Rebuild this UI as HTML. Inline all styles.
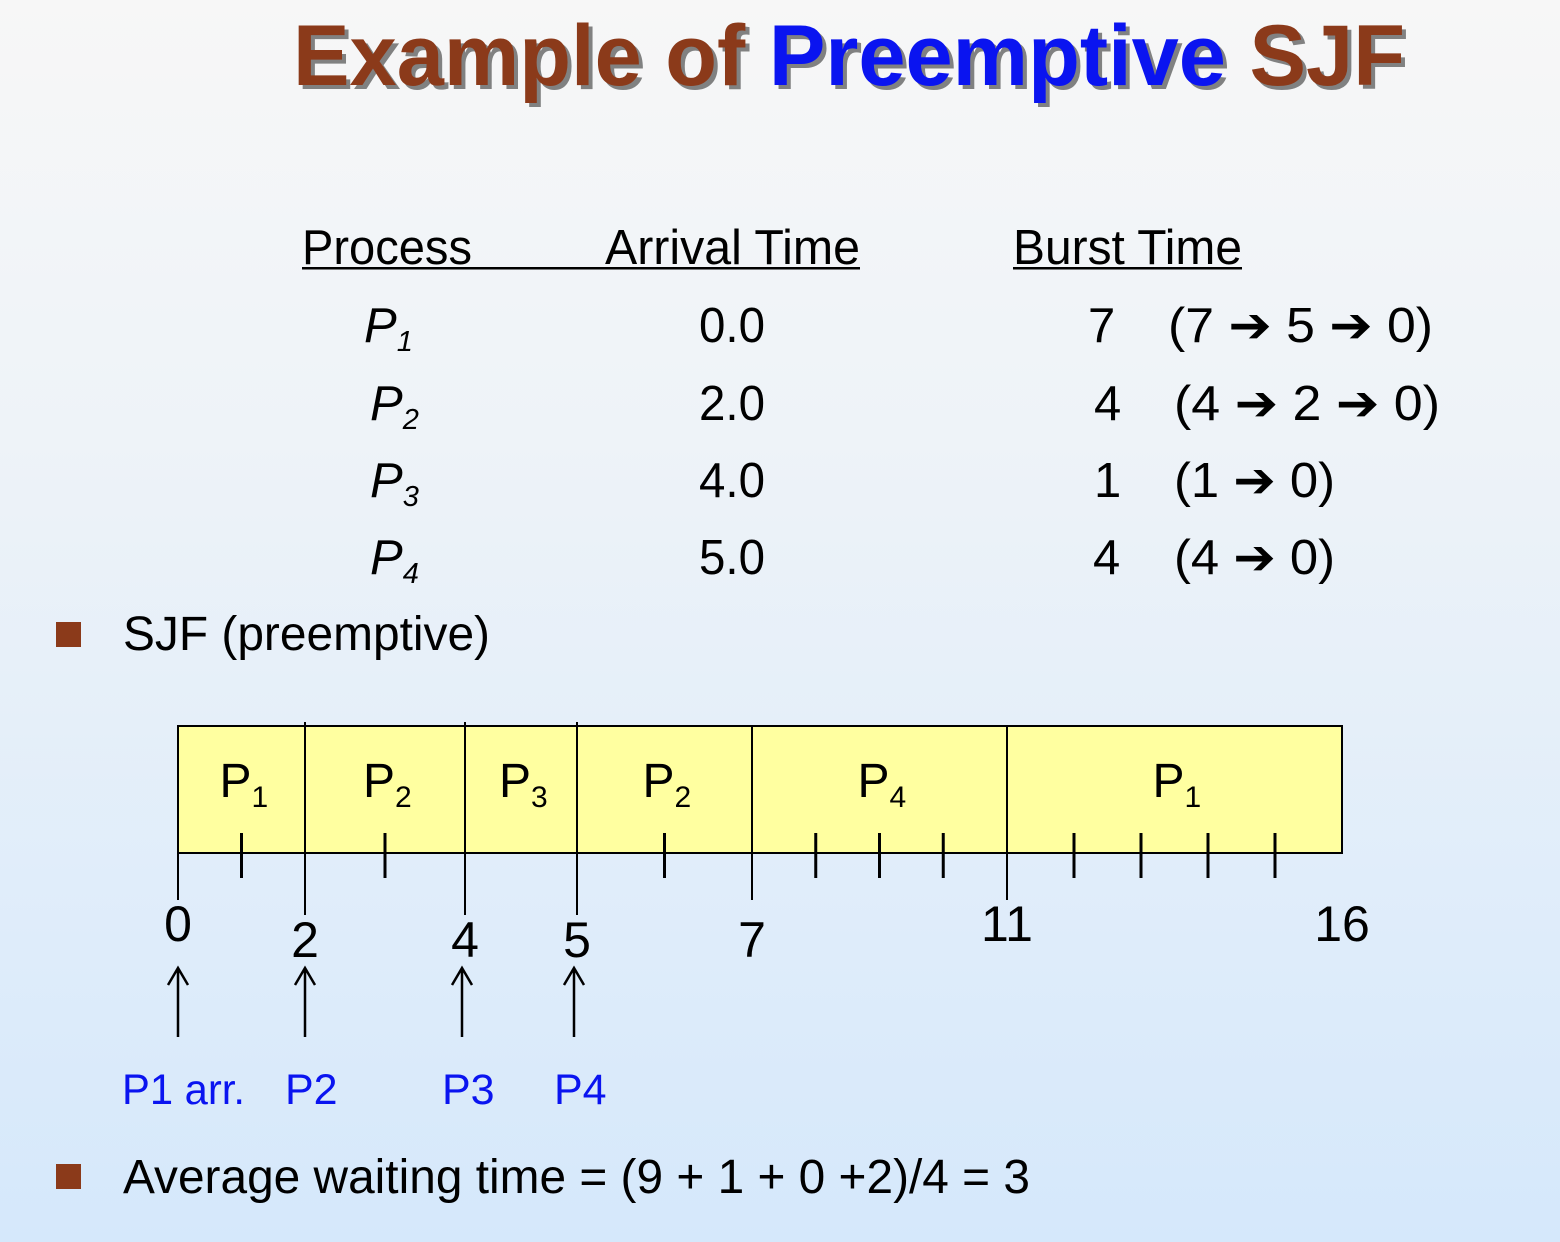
<!DOCTYPE html>
<html><head><meta charset="utf-8"><style>
html,body{margin:0;padding:0}
body{width:1560px;height:1242px;overflow:hidden;background:linear-gradient(#f7f7f7 0%,#eef3f8 35%,#d5e8fb 100%)}
svg{display:block}
text{font-family:"Liberation Sans","DejaVu Sans",sans-serif}
</style></head><body>
<svg id="slide" width="1560" height="1242" viewBox="0 0 1560 1242">
  <g font-weight="bold" font-size="86">
    <text x="297" y="89" textLength="1112" lengthAdjust="spacingAndGlyphs" fill="#222" opacity="0.55">Example of Preemptive SJF</text>
    <text x="293" y="85" textLength="1112" lengthAdjust="spacingAndGlyphs" fill="#8b3a1a"><tspan>Example of </tspan><tspan fill="#0a14f0">Preemptive</tspan><tspan> SJF</tspan></text>
  </g>

  <g font-size="49" fill="#000">
    <text x="302" y="264" textLength="170" lengthAdjust="spacingAndGlyphs">Process</text>
    <text x="605" y="264" textLength="255" lengthAdjust="spacingAndGlyphs">Arrival Time</text>
    <text x="1013" y="264" textLength="229" lengthAdjust="spacingAndGlyphs">Burst Time</text>
    <rect x="302" y="267" width="558" height="2.5" fill="#000"/>
    <rect x="1013" y="267" width="229" height="2.5" fill="#000"/>

    <g>
      <text x="364" y="342" font-style="italic">P<tspan font-size="29" dy="9">1</tspan></text>
      <text x="699" y="342" textLength="66" lengthAdjust="spacingAndGlyphs">0.0</text>
      <text x="1088" y="342">7</text>
      <text x="1168" y="342" textLength="265" lengthAdjust="spacingAndGlyphs">(7 ➔ 5 ➔ 0)</text>
    </g>
    <g>
      <text x="370" y="420" font-style="italic">P<tspan font-size="29" dy="9">2</tspan></text>
      <text x="699" y="420" textLength="66" lengthAdjust="spacingAndGlyphs">2.0</text>
      <text x="1094" y="420">4</text>
      <text x="1174" y="420" textLength="266" lengthAdjust="spacingAndGlyphs">(4 ➔ 2 ➔ 0)</text>
    </g>
    <g>
      <text x="370" y="497" font-style="italic">P<tspan font-size="29" dy="9">3</tspan></text>
      <text x="699" y="497" textLength="66" lengthAdjust="spacingAndGlyphs">4.0</text>
      <text x="1094" y="497">1</text>
      <text x="1174" y="497" textLength="161" lengthAdjust="spacingAndGlyphs">(1 ➔ 0)</text>
    </g>
    <g>
      <text x="370" y="574" font-style="italic">P<tspan font-size="29" dy="9">4</tspan></text>
      <text x="699" y="574" textLength="66" lengthAdjust="spacingAndGlyphs">5.0</text>
      <text x="1093" y="574">4</text>
      <text x="1174" y="574" textLength="161" lengthAdjust="spacingAndGlyphs">(4 ➔ 0)</text>
    </g>
  </g>

  <rect x="56" y="622" width="25" height="25" fill="#8b3a1a"/>
  <text x="123" y="650" font-size="48" textLength="367" lengthAdjust="spacingAndGlyphs">SJF (preemptive)</text>

  <g id="gantt"></g>

  <rect x="56" y="1164" width="25" height="25" fill="#8b3a1a"/>
  <text x="123" y="1193" font-size="48" textLength="907" lengthAdjust="spacingAndGlyphs">Average waiting time = (9 + 1 + 0 +2)/4 = 3</text>
</svg>
<script>
const segProcess = ["1","2","3","2","4","1"];
const segStart = [0,2,4,5,7,11];
const segEnd = [2,4,5,7,11,16];
const boundaryTimes = [0,2,4,5,7,11,16];
const boundaryLabels = ["0","2","4","5","7","11","16"];
const minorTicks = [1,3,6,8,9,10,12,13,14,15];
const arrivalTimes = [0,2,4,5];
const arrivalLabels = ["P1 arr.","P2","P3","P4"];

// axis function: hand-drawn piecewise time scale
const anchorT = [0,2,4,5,7,11,16];
const anchorX = [178,305,465,577,752,1007,1342];
function xScale(t){
  for(let i=0;i<anchorT.length-1;i++){
    if(t<=anchorT[i+1]||i===anchorT.length-2){
      const f=(t-anchorT[i])/(anchorT[i+1]-anchorT[i]);
      return anchorX[i]+f*(anchorX[i+1]-anchorX[i]);
    }
  }
}
const NS="http://www.w3.org/2000/svg";
const g=document.getElementById('gantt');
function mk(tag,attrs){const e=document.createElementNS(NS,tag);for(const k in attrs)e.setAttribute(k,attrs[k]);g.appendChild(e);return e;}
const gTop=726,gBot=853;
segProcess.forEach((p,i)=>{
  const x0=xScale(segStart[i]),x1=xScale(segEnd[i]);
  const r=mk('rect',{x:x0,y:gTop,width:x1-x0,height:gBot-gTop,fill:'#ffffa0',stroke:'#000','stroke-width':2});
  
  
  const t=mk('text',{x:(x0+x1)/2-22,y:797,'font-size':48});
  
  
  t.innerHTML='P<tspan font-size="30" dy="10">'+p+'</tspan>';
});
boundaryTimes.forEach((b,i)=>{
  const x=xScale(b);
  if(i<boundaryTimes.length-1){
    const ext=(b===2||b===4||b===5);
    const l=mk('line',{x1:x,x2:x,y1:ext?722:(b===0?gBot:gTop),y2:ext?915:900,stroke:'#000','stroke-width':2});
    
    
  }
  const high=(b===0||b>=11);
  const t=mk('text',{x:x,y:high?941:957,'font-size':50,'text-anchor':'middle'});
  
  
  t.textContent=boundaryLabels[i];
});
minorTicks.forEach(m=>{
  const x=xScale(m);
  const l=mk('line',{x1:x,x2:x,y1:833,y2:878,stroke:'#000','stroke-width':3});
  
  
});
arrivalTimes.forEach((a,i)=>{
  const x=xScale(a)-(a>=4?3:0);
  const p=mk('path',{d:`M${x} 1037 V968 M${x-10} 985 L${x} 968 L${x+10} 985`,fill:'none',stroke:'#000','stroke-width':2.5});
  
  
  const t=mk('text',{x:i===0?122:x-20,y:1104,'font-size':43,fill:'#0a14f0'});
  
  
  if(i===0){t.setAttribute('textLength','123');t.setAttribute('lengthAdjust','spacingAndGlyphs');}
  t.textContent=arrivalLabels[i];
});
</script>
</body></html>
